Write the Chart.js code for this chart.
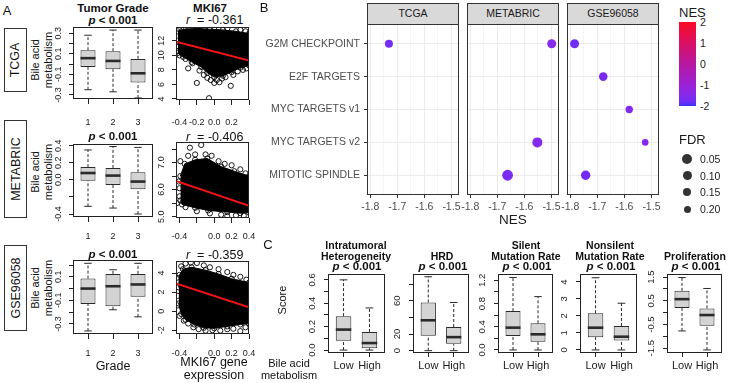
<!DOCTYPE html>
<html>
<head>
<meta charset="utf-8">
<script src="https://cdn.jsdelivr.net/npm/chart.js@4.4.1/dist/chart.umd.min.js"></script>
<style>
  body { margin: 0; background: #fff; }
  #fig { position: relative; width: 729px; height: 383px; overflow: hidden; font-family: 'Liberation Sans', Arial, sans-serif; color: #111; }
  #fig canvas { position: absolute; }
  .t { position: absolute; white-space: nowrap; transform: translate(-50%, -50%); line-height: 1; }
  .l { transform: translate(0, -50%); }
  .b { font-weight: bold; }
  .rot { transform: translate(-50%, -50%) rotate(-90deg); text-align: center; }
  .rowbox { position: absolute; border: 1px solid #333; box-sizing: border-box; display: flex; align-items: center; justify-content: center; }
  .rowbox span { transform: rotate(-90deg); white-space: nowrap; font-size: 12.5px; }
  .strip { position: absolute; background: #d9d9d9; border: 1px solid #333; box-sizing: border-box; text-align: center; font-size: 10.5px; color: #1a1a1a; line-height: 19px; }
</style>
</head>
<body>
<div id="fig"></div>
<script>
// ---------- Panel A: bile acid metabolism by tumour grade (min, q1, median, q3, max)
const gradeLevels = [1, 2, 3]
const gradeLabels = ['1', '2', '3']
const gradeTCGA = [[-0.25, -0.03, 0.057, 0.135, 0.28], [-0.27, -0.05, 0.03, 0.125, 0.33], [-0.33, -0.18, -0.09, 0.05, 0.33]]
const gradeMETABRIC = [[-0.31, -0.01, 0.08, 0.15, 0.35], [-0.33, -0.06, 0.05, 0.14, 0.39], [-0.40, -0.11, -0.02, 0.09, 0.38]]
const gradeGSE = [[-0.36, -0.13, 0.0, 0.085, 0.215], [-0.18, -0.15, 0.02, 0.125, 0.16], [-0.24, -0.07, 0.035, 0.125, 0.215]]
const gradeTicksTCGA = [-0.3, -0.2, -0.1, 0, 0.1, 0.2, 0.3]
const gradeTickLabTCGA = ['-0.3', '', '-0.1', '', '0.1', '', '0.3']
const gradeTicksMETABRIC = [-0.4, -0.2, 0, 0.2, 0.4]
const gradeTickLabMETABRIC = ['-0.4', '', '0.0', '0.2', '0.4']
const gradeTicksGSE = [-0.3, -0.2, -0.1, 0, 0.1, 0.2]
const gradeTickLabGSE = ['-0.3', '', '-0.1', '', '0.1', '']

// ---------- Panel A: MKI67 vs bile acid score
// dense part of each cloud as upper / lower edge, plus sparse outer points and the fitted line
const mkiTicks = [-0.4, -0.2, 0, 0.2, 0.4]
const mkiTickLab1 = ['-0.4', '-0.2', '0.0', '0.2', '']
const mkiTickLab = ['-0.4', '', '0.0', '0.2', '0.4']

const mkiTopTCGA = [[-0.42, 13.3], [-0.35, 13.6], [-0.2, 13.7], [-0.05, 13.6], [0.1, 13.5], [0.25, 13.3], [0.4, 13.0]]
const mkiLowTCGA = [[-0.42, 10.3], [-0.36, 9.8], [-0.26, 9.1], [-0.15, 8.4], [-0.08, 7.6], [0.0, 7.0], [0.1, 7.2], [0.2, 7.7], [0.3, 8.3], [0.4, 8.6]]
const mkiPtsTCGA = [[-0.43, 10.6], [-0.4, 10.0], [-0.33, 9.5], [-0.3, 8.2], [-0.25, 8.9], [-0.2, 6.2], [-0.17, 7.9], [-0.12, 7.3], [-0.08, 6.9], [-0.04, 6.6], [-0.06, 4.1], [0.0, 6.2], [0.03, 6.6], [0.06, 6.3], [0.09, 6.8], [0.13, 7.0], [0.19, 5.8], [0.22, 7.3], [0.27, 7.8], [0.33, 8.0], [0.37, 8.2], [-0.42, 13.7], [-0.33, 13.8], [-0.25, 13.85], [-0.12, 13.75], [0.0, 13.8], [0.15, 13.7], [0.3, 13.5], [0.36, 13.3], [0.38, 12.6], [-0.42, 12.0], [-0.41, 11.2]]
const mkiFitTCGA = [[-0.44, 11.87], [0.4, 9.3]]
const mkiYTicksTCGA = [4, 6, 8, 10, 12]
const mkiYLabTCGA = ['4', '6', '8', '10', '12']

const mkiTopMETABRIC = [[-0.39, 6.5], [-0.34, 6.95], [-0.22, 7.1], [-0.08, 7.15], [0.08, 6.85], [0.23, 6.68], [0.4, 6.5]]
const mkiLowMETABRIC = [[-0.39, 5.6], [-0.37, 5.45], [-0.22, 5.33], [-0.07, 5.23], [0.15, 5.17], [0.3, 5.13], [0.4, 5.15]]
const mkiPtsMETABRIC = [[-0.39, 7.05], [-0.3, 7.25], [-0.22, 7.3], [-0.15, 7.65], [-0.1, 7.3], [-0.03, 7.25], [0.05, 7.05], [0.12, 6.95], [0.2, 6.9], [0.3, 6.75], [0.36, 6.6], [-0.43, 5.5], [-0.4, 5.75], [-0.41, 6.3], [-0.33, 5.35], [-0.2, 5.2], [-0.05, 5.12], [0.08, 5.07], [0.15, 5.02], [0.25, 5.05], [0.34, 5.04], [-0.28, 7.55], [-0.4, 6.05]]
const mkiFitMETABRIC = [[-0.44, 6.32], [0.4, 5.4]]
const mkiYTicksMETABRIC = [5, 5.5, 6, 6.5, 7, 7.5]
const mkiYLabMETABRIC = ['5.0', '', '6.0', '', '7.0', '']

const mkiTopGSE = [[-0.41, 2.5], [-0.4, 3.8], [-0.36, 4.4], [-0.26, 4.6], [-0.1, 4.3], [0.05, 3.9], [0.2, 3.4], [0.4, 3.0]]
const mkiLowGSE = [[-0.41, 0.8], [-0.38, -0.3], [-0.33, -0.9], [-0.23, -1.4], [-0.12, -1.75], [0.0, -1.8], [0.15, -1.6], [0.3, -1.4], [0.4, -1.3]]
const mkiPtsGSE = [[-0.43, 3.5], [-0.38, 4.7], [-0.33, 5.0], [-0.27, 5.1], [-0.2, 5.05], [-0.12, 4.8], [-0.05, 4.6], [0.05, 4.4], [0.15, 4.1], [0.22, 3.8], [0.3, 3.6], [0.37, 3.3], [-0.42, 0.6], [-0.4, -0.5], [-0.35, -1.0], [-0.3, -1.3], [-0.24, -1.7], [-0.18, -1.9], [-0.1, -2.05], [-0.02, -2.0], [0.07, -2.05], [0.15, -1.9], [0.22, -1.85], [0.3, -2.1], [0.36, -1.7], [-0.37, 2.6], [-0.42, 1.6]]
const mkiFitGSE = [[-0.44, 2.91], [0.4, 0.4]]
const mkiYTicksGSE = [-2, 0, 2, 4]
const mkiYLabGSE = ['-2', '0', '2', '4']

// ---------- Panel B: GSEA hallmark sets
const pathways = ['G2M CHECKPOINT', 'E2F TARGETS', 'MYC TARGETS v1', 'MYC TARGETS v2', 'MITOTIC SPINDLE']
const cohorts = ['TCGA', 'METABRIC', 'GSE96058']
const nesTCGA = [-1.731, null, null, null, null]
const nesMETABRIC = [-1.499, null, null, -1.552, -1.662]
const nesGSE = [-1.784, -1.678, -1.582, -1.523, -1.743]
const fdrTCGA = [0.15, null, null, null, null]
const fdrMETABRIC = [0.10, null, null, 0.05, 0.01]
const fdrGSE = [0.10, 0.12, 0.18, 0.22, 0.08]
const nesTicks = [-1.8, -1.75, -1.7, -1.65, -1.6, -1.55, -1.5]
const nesLegend = [2, 1, 0, -1, -2]
const fdrLegend = [0.05, 0.10, 0.15, 0.20]

// ---------- Panel C: scores by bile acid metabolism group (min, q1, median, q3, max)
const scoreGroups = ['Low', 'High']
const itHetero = [[0, 0.08, 0.175, 0.29, 0.6], [0, 0.015, 0.06, 0.155, 0.36]]
const hrd = [[0, 18, 36.6, 58, 89], [0, 8.2, 16.3, 28.5, 58]]
const silentRate = [[0, 0.24, 0.385, 0.67, 1.25], [0, 0.14, 0.27, 0.46, 0.92]]
const nonsilentRate = [[0, 0.75, 1.31, 2.16, 4.25], [0, 0.55, 0.78, 1.41, 2.75]]
const prolif = [[-0.77, 0.2, 0.57, 0.92, 1.48], [-1.57, -0.55, -0.1, 0.18, 1.02]]
const itTicks = [0, 0.1, 0.2, 0.3, 0.4, 0.5, 0.6]
const itTickLab = ['0.0', '', '0.2', '', '0.4', '', '0.6']
const hrdTicks = [0, 20, 40, 60, 80]
const hrdTickLab = ['0', '20', '', '60', '']
const silentTicks = [0, 0.2, 0.4, 0.6, 0.8, 1.0, 1.2]
const silentTickLab = ['0.0', '', '0.4', '', '0.8', '', '1.2']
const nonsilentTicks = [0, 1, 2, 3, 4]
const nonsilentTickLab = ['0', '1', '2', '3', '4']
const prolifTicks = [-1.5, -1, -0.5, 0, 0.5, 1, 1.5]
const prolifTickLab = ['-1.5', '', '-0.5', '', '0.5', '', '1.5']

// ---------- helpers
const FONT = "'Liberation Sans', Arial, sans-serif"
Chart.defaults.font.family = FONT
const fig = document.getElementById('fig')

function text (html, x, y, cls = '', size = 12, style = '') {
  const d = document.createElement('div')
  d.className = 't ' + cls
  d.style.cssText = `left:${x}px;top:${y}px;font-size:${size}px;${style}`
  d.innerHTML = html
  fig.appendChild(d)
  return d
}

function canvasAt (left, top, w, h) {
  const c = document.createElement('canvas')
  c.width = w; c.height = h
  c.style.left = left + 'px'; c.style.top = top + 'px'
  c.style.width = w + 'px'; c.style.height = h + 'px'
  fig.appendChild(c)
  return c
}

// box around the plot region
const framePlugin = {
  id: 'frame',
  afterDraw (chart, args, opts) {
    const { ctx, chartArea: a } = chart
    ctx.save()
    ctx.strokeStyle = opts.color || '#222'
    ctx.lineWidth = 1
    ctx.strokeRect(a.left + 0.5, a.top + 0.5, a.width - 1, a.height - 1)
    ctx.restore()
  }
}

// R style y labels, turned parallel to the axis
const yLabelPlugin = {
  id: 'ylab',
  afterDraw (chart, args, opts) {
    const { ctx, chartArea: a, scales: { y } } = chart
    ctx.save()
    ctx.font = `${opts.size || 9}px ${FONT}`
    ctx.fillStyle = '#222'
    ctx.textAlign = 'center'
    ctx.textBaseline = 'bottom'
    y.ticks.forEach(t => {
      if (!t.label) return
      ctx.save()
      ctx.translate(a.left - (opts.gap || 10), y.getPixelForValue(t.value))
      ctx.rotate(-Math.PI / 2)
      ctx.fillText(t.label, 0, 0)
      ctx.restore()
    })
    ctx.restore()
  }
}

function boxSets (stats, wid) {
  const sets = [{
    type: 'bar',
    data: stats.map((s, i) => ({ x: i + 1, y: [s[1], s[3]] })),
    backgroundColor: '#d3d3d3', borderColor: '#2a2a2a', borderWidth: 1, borderSkipped: false,
    barPercentage: wid, categoryPercentage: 1, order: 3
  }]
  const seg = (pts, extra) => sets.push({ data: pts, showLine: true, borderColor: '#2a2a2a', borderWidth: 1, pointRadius: 0, order: 2, ...extra })
  stats.forEach((s, i) => {
    const x = i + 1
    const cap = wid / 4
    seg([{ x, y: s[0] }, { x, y: s[1] }], { borderDash: [3, 2] })
    seg([{ x, y: s[3] }, { x, y: s[4] }], { borderDash: [3, 2] })
    seg([{ x: x - cap, y: s[0] }, { x: x + cap, y: s[0] }])
    seg([{ x: x - cap, y: s[4] }, { x: x + cap, y: s[4] }])
    seg([{ x: x - wid / 2, y: s[2] }, { x: x + wid / 2, y: s[2] }], { borderWidth: 2.6, order: 0 })
  })
  return sets
}

function cloudSets (top, low, pts, fit) {
  const xy = a => a.map(([x, y]) => ({ x, y }))
  const ring = { pointRadius: 2.6, pointBorderColor: '#000', pointBackgroundColor: 'rgba(0,0,0,0)', pointBorderWidth: 0.9 }
  return [
    { data: xy(fit), showLine: true, borderColor: '#f01414', borderWidth: 2, pointRadius: 0, order: 0 },
    { data: xy(top), showLine: true, borderColor: '#000', borderWidth: 1, fill: false, order: 2, ...ring },
    { data: xy(low), showLine: true, borderColor: '#000', borderWidth: 1, fill: '-1', backgroundColor: '#000', order: 2, ...ring },
    { data: xy(pts), order: 1, ...ring }
  ]
}

// R base-graphics style panel; frame at (L, T) of size W x H
function rPlot (L, T, W, H, xs, ys, datasets, o = {}) {
  const AX = 34, PT = 8, PR = 16, BX = 36
  const xTick = o.xTick || 5, xFont = o.xFont || 9
  const cv = canvasAt(L - AX, T - PT, AX + W + PR, PT + H + BX)
  return new Chart(cv, {
    type: 'scatter',
    data: { datasets },
    options: {
      responsive: false, animation: false, events: [],
      layout: { padding: { top: PT, right: PR, left: 0, bottom: 0 } },
      plugins: { legend: { display: false }, tooltip: { enabled: false }, frame: { color: '#222' }, ylab: { gap: o.yGap || 10, size: o.yFont || 9 } },
      scales: {
        x: {
          type: 'linear', min: xs.min, max: xs.max, offset: false,
          afterBuildTicks: s => { s.ticks = xs.ticks.map(v => ({ value: v })) },
          afterFit: s => { s.height = BX },
          ticks: { autoSkip: false, maxRotation: 0, minRotation: 0, padding: o.labY - (T + H) - xTick - 0.6 * xFont, font: { size: xFont }, color: '#222', callback: (v, i) => xs.labels[i] },
          grid: { drawOnChartArea: false, tickLength: xTick, tickColor: '#222', offset: false },
          border: { display: false }
        },
        y: {
          type: 'linear', min: ys.min, max: ys.max,
          afterBuildTicks: s => { s.ticks = ys.ticks.map(v => ({ value: v })) },
          afterFit: s => { s.width = AX },
          ticks: { display: false, callback: (v, i) => ys.labels[i] },
          grid: { drawOnChartArea: false, tickLength: 4, tickColor: '#222' },
          border: { display: false }
        }
      }
    },
    plugins: [framePlugin, yLabelPlugin]
  })
}

// ---------- Panel A
text('A', 7, 10, '', 13)
text('Tumor Grade', 113, 9, 'b', 11.5)
text('MKI67', 210, 9, 'b', 11.5)
const pval = '<i>p</i> &lt; 0.001'
const rows = [
  { name: 'TCGA', top: 28, h: 64, lab: 60, r: '-0.361', y: 20, grade: gradeTCGA, gT: gradeTicksTCGA, gL: gradeTickLabTCGA, gMin: -0.34, gMax: 0.36, bT: 27, bH: 72, sT: 27, sH: 73, labY: 123,
    top2: mkiTopTCGA, low: mkiLowTCGA, pts: mkiPtsTCGA, fit: mkiFitTCGA, mT: mkiYTicksTCGA, mL: mkiYLabTCGA, mMin: 3.85, mMax: 13.9, xl: mkiTickLab1 },
  { name: 'METABRIC', top: 120, h: 98, lab: 172, r: '-0.406', y: 137, grade: gradeMETABRIC, gT: gradeTicksMETABRIC, gL: gradeTickLabMETABRIC, gMin: -0.435, gMax: 0.42, bT: 144, bH: 73, sT: 142, sH: 76, labY: 237,
    top2: mkiTopMETABRIC, low: mkiLowMETABRIC, pts: mkiPtsMETABRIC, fit: mkiFitMETABRIC, mT: mkiYTicksMETABRIC, mL: mkiYLabMETABRIC, mMin: 4.95, mMax: 7.76, xl: mkiTickLab },
  { name: 'GSE96058', top: 245, h: 86, lab: 288, r: '-0.359', y: 255, grade: gradeGSE, gT: gradeTicksGSE, gL: gradeTickLabGSE, gMin: -0.386, gMax: 0.243, bT: 260, bH: 74, sT: 261, sH: 73, labY: 354,
    top2: mkiTopGSE, low: mkiLowGSE, pts: mkiPtsGSE, fit: mkiFitGSE, mT: mkiYTicksGSE, mL: mkiYLabGSE, mMin: -2.4, mMax: 5.26, xl: mkiTickLab }
]
rows.forEach(r => {
  const box = document.createElement('div')
  box.className = 'rowbox'
  box.style.cssText = `left:4px;top:${r.top}px;width:23px;height:${r.h}px;`
  box.innerHTML = `<span>${r.name}</span>`
  fig.appendChild(box)
  text('Bile acid<br>metabolism', 42, r.lab, 'rot', 11, 'line-height:13px;')
  text(pval, 113, r.y + (r.name === 'TCGA' ? 1 : 0), 'b', 11.5)
  text(`<i>r</i>&nbsp; = ${r.r}`, 186, r.y, 'l', 12.5)
  rPlot(73, r.bT, 80, r.bH,
    { min: 0.4, max: 3.6, ticks: gradeLevels, labels: gradeLabels },
    { min: r.gMin, max: r.gMax, ticks: r.gT, labels: r.gL },
    boxSets(r.grade, 0.6), { labY: r.labY })
  rPlot(176, r.sT, 73, r.sH,
    { min: -0.44, max: 0.4, ticks: mkiTicks, labels: r.xl },
    { min: r.mMin, max: r.mMax, ticks: r.mT, labels: r.mL },
    cloudSets(r.top2, r.low, r.pts, r.fit), { labY: r.labY })
})
text('Grade', 113, 366, '', 12.5)
text('MKI67 gene', 214, 362, '', 12.5)
text('expression', 214, 375, '', 12.5)

// ---------- Panel B
const nesStops = [[-2, [58, 52, 255]], [-1.8, [112, 44, 246]], [-1.5, [134, 42, 236]], [-1, [155, 34, 214]], [0, [182, 24, 160]], [1, [218, 16, 100]], [2, [250, 10, 36]]]
function nesColor (v) {
  for (let i = 1; i < nesStops.length; i++) {
    const [v0, c0] = nesStops[i - 1], [v1, c1] = nesStops[i]
    if (v <= v1) {
      const t = Math.max(0, (v - v0) / (v1 - v0))
      return `rgb(${c0.map((c, k) => Math.round(c + (c1[k] - c) * t)).join(',')})`
    }
  }
  return 'rgb(250,10,36)'
}
const fdrRadius = f => 5.5 - 10 * f
const isMajor = v => Math.abs(v * 10 - Math.round(v * 10)) < 1e-6

text('B', 264, 7, '', 13)
function facet (L, nes, fdr, showY) {
  const AX = showY ? 112 : 14, PT = 14, PR = 14, BX = 24, W = 92, H = 171, T = 24
  const cv = canvasAt(L - AX, T - PT, AX + W + PR, PT + H + BX)
  const idx = nes.map((v, i) => i).filter(i => nes[i] !== null)
  new Chart(cv, {
    type: 'scatter',
    data: {
      datasets: [{
        data: idx.map(i => ({ x: nes[i], y: i + 1 })),
        pointRadius: idx.map(i => fdrRadius(fdr[i])),
        pointBackgroundColor: idx.map(i => nesColor(nes[i])),
        pointBorderWidth: 0
      }]
    },
    options: {
      responsive: false, animation: false, events: [],
      layout: { padding: { top: PT, right: PR, left: 0, bottom: 0 } },
      plugins: { legend: { display: false }, tooltip: { enabled: false }, frame: { color: '#333' } },
      scales: {
        x: {
          type: 'linear', min: -1.812, max: -1.472,
          afterBuildTicks: s => { s.ticks = nesTicks.map(v => ({ value: v })) },
          afterFit: s => { s.height = BX },
          ticks: { autoSkip: false, maxRotation: 0, padding: 3, font: { size: 10.5 }, color: '#4d4d4d', callback: v => isMajor(v) ? v.toFixed(1) : '' },
          grid: {
            color: c => isMajor(c.tick.value) ? '#ebebeb' : '#f5f5f5',
            tickColor: c => isMajor(c.tick.value) ? '#333' : 'rgba(0,0,0,0)',
            tickLength: 3
          },
          border: { display: false }
        },
        y: {
          type: 'linear', min: 0.4, max: 5.6, reverse: true,
          afterBuildTicks: s => { s.ticks = pathways.map((p, i) => ({ value: i + 1 })) },
          afterFit: s => { s.width = AX },
          ticks: { display: showY, padding: 4, font: { size: 10.5 }, color: '#4d4d4d', callback: v => pathways[v - 1] },
          grid: { color: '#ebebeb', tickColor: showY ? '#333' : 'rgba(0,0,0,0)', tickLength: 3, drawTicks: showY },
          border: { display: false }
        }
      }
    },
    plugins: [framePlugin]
  })
}
const facetLeft = [367, 467, 567]
const facetNes = [nesTCGA, nesMETABRIC, nesGSE]
const facetFdr = [fdrTCGA, fdrMETABRIC, fdrGSE]
cohorts.forEach((name, k) => {
  const s = document.createElement('div')
  s.className = 'strip'
  s.style.cssText = `left:${facetLeft[k]}px;top:3px;width:92px;height:22px;`
  s.textContent = name
  fig.appendChild(s)
  facet(facetLeft[k], facetNes[k], facetFdr[k], k === 0)
})
text('NES', 513, 220, '', 13.5, 'color:#1a1a1a;')

// legends
text('NES', 679, 12, 'l', 13, 'color:#1a1a1a;')
const bar = document.createElement('div')
const grad = nesStops.map(([v, c]) => `rgb(${c.join(',')}) ${((v + 2) / 4 * 100).toFixed(1)}%`).join(',')
bar.style.cssText = `position:absolute;left:679px;top:22px;width:17px;height:84px;background:linear-gradient(to top, ${grad});`
fig.appendChild(bar)
nesLegend.forEach(v => text(String(v), 700, 22 + (2 - v) / 4 * 84, 'l', 10.5, 'color:#222;'))
text('FDR', 679, 139, 'l', 13, 'color:#1a1a1a;')
fdrLegend.forEach((f, i) => {
  const y = 159 + i * 16.7
  const r = fdrRadius(f)
  const d = document.createElement('div')
  d.style.cssText = `position:absolute;left:${687 - r}px;top:${y - r}px;width:${2 * r}px;height:${2 * r}px;border-radius:50%;background:#333;`
  fig.appendChild(d)
  text(f.toFixed(2), 700, y, 'l', 10.5, 'color:#222;')
})

// ---------- Panel C
text('C', 268, 244, '', 13)
text('Score', 282, 300, 'rot', 11)
text('Bile acid', 289, 363, '', 11)
text('metabolism', 289, 375, '', 11)
const cPanels = [
  { L: 328, W: 57, title: ['Intratumoral', 'Heterogeneity'], cx: 356, stats: itHetero, ticks: itTicks, labs: itTickLab, min: -0.025, max: 0.65 },
  { L: 413, W: 56, title: ['HRD'], cx: 442, stats: hrd, ticks: hrdTicks, labs: hrdTickLab, min: -2.8, max: 92.3 },
  { L: 498, W: 55, title: ['Silent', 'Mutation Rate'], cx: 526, stats: silentRate, ticks: silentTicks, labs: silentTickLab, min: -0.052, max: 1.31 },
  { L: 580, W: 57, title: ['Nonsilent', 'Mutation Rate'], cx: 610, stats: nonsilentRate, ticks: nonsilentTicks, labs: nonsilentTickLab, min: -0.18, max: 4.47 },
  { L: 667, W: 55, title: ['Proliferation'], cx: 695, stats: prolif, ticks: prolifTicks, labs: prolifTickLab, min: -1.70, max: 1.63 }
]
cPanels.forEach(p => {
  p.title.forEach((line, i) => text(line, p.cx, 256 - (p.title.length - 1 - i) * 11.5, 'b', 10.5))
  text(pval, p.cx + 1, 267, 'b', 11.5)
  rPlot(p.L, 274, p.W, 79,
    { min: 0.4, max: 2.6, ticks: [1, 2], labels: scoreGroups },
    { min: p.min, max: p.max, ticks: p.ticks, labels: p.labs },
    boxSets(p.stats, 0.6), { labY: 366, xTick: 4, xFont: 11, yGap: 11, yFont: 9.5 })
})
</script>
</body>
</html>
